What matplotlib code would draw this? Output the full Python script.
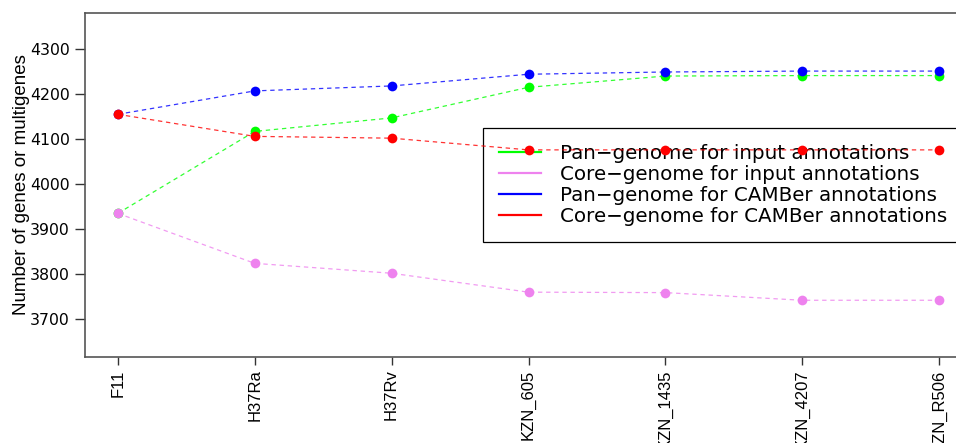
import matplotlib
matplotlib.use('Agg')
import matplotlib.pyplot as plt
from matplotlib.lines import Line2D

plt.rcParams['font.family'] = ['Liberation Sans', 'DejaVu Sans']

genomes = ['F11', 'H37Ra', 'H37Rv', 'KZN_605', 'KZN_1435', 'KZN_4207', 'KZN_R506']
pan_input = [3935, 4117, 4147, 4215, 4240, 4241, 4241]
core_input = [3935, 3824, 3802, 3760, 3759, 3742, 3742]
pan_camber = [4155, 4207, 4218, 4244, 4249, 4251, 4251]
core_camber = [4155, 4106, 4102, 4076, 4076, 4076, 4076]

labels = ['Pan\u2212genome for input annotations',
          'Core\u2212genome for input annotations',
          'Pan\u2212genome for CAMBer annotations',
          'Core\u2212genome for CAMBer annotations']
colors = ['#00ff00', 'violet', '#0000ff', '#ff0000']

W, H = 956, 443
fig = plt.figure(figsize=(W / 100, H / 100), dpi=100)
# plot box runs past the right edge of the picture, as in the reference
left, right, top, bottom = 85, 972, 13, 357
ax = fig.add_axes([left / W, 1 - bottom / H, (right - left) / W, (bottom - top) / H])

x = list(range(len(genomes)))
series = [pan_input, core_input, pan_camber, core_camber]
zorders = [2, 2.1, 2.2, 5]
for vals, c, z in zip(series, colors, zorders):
    ax.plot(x, vals, linestyle=(0, (3.5, 3)), color=c, lw=0.9, alpha=0.8, zorder=z)
    ax.plot(x, vals, linestyle='none', marker='o', ms=7, color=c,
            markeredgewidth=0, zorder=z + 0.05)

ax.set_xlim(-0.24, len(genomes) - 1 + 0.24)
ax.set_ylim(3616, 4380)
ax.set_xticks(x)
ax.set_xticklabels(genomes, rotation=90, fontsize=12)
ax.set_yticks([3700, 3800, 3900, 4000, 4100, 4200, 4300])
for t in ax.get_yticklabels():
    t.set_fontfamily('DejaVu Sans')
ax.tick_params(axis='y', labelsize=11.3, length=7, width=1, pad=4, color='#333333')
ax.tick_params(axis='x', length=6, width=1, pad=3, color='#333333')
for s in ax.spines.values():
    s.set_color('#555555')
    s.set_linewidth(1.2)
ax.set_ylabel('Number of genes or multigenes', fontsize=13.5)
ax.yaxis.set_label_coords(-0.062, 0.5)

handles = [Line2D([], [], color=c, lw=1.6) for c in colors]
leg = ax.legend(handles, labels, loc='upper left',
                bbox_to_anchor=(483 / W, 1 - 242 / H, (1010 - 483) / W, (242 - 128) / H),
                bbox_transform=fig.transFigure, borderaxespad=0, mode='expand',
                prop={'family': 'DejaVu Sans', 'size': 14.3}, frameon=True,
                fancybox=False, edgecolor='black', framealpha=1,
                handlelength=2.1, handletextpad=1.0, labelspacing=0.1,
                borderpad=0.8)
leg.get_frame().set_linewidth(0.9)
leg.set_zorder(4)

fig.savefig('out.png', dpi=100)
